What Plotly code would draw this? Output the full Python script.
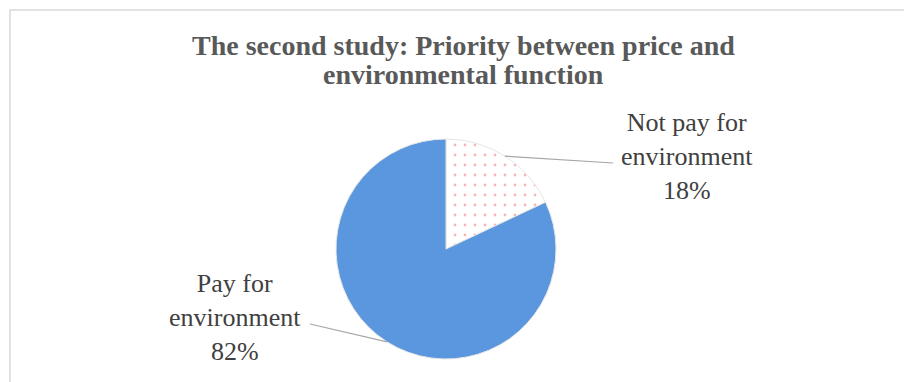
import plotly.graph_objects as go
import numpy as np

# Data
labels = ['Not pay for<br>environment', 'Pay for<br>environment']
values = [18, 82]
title_lines = ['The second study: Priority between price and', 'environmental function']

W, H = 904, 382
cx, cy, r = 446, 249, 110  # pie centre / radius in pixels

def px(x):
    return x / W

def py(y):
    return 1 - y / H

pie = go.Pie(
    labels=labels,
    values=values,
    sort=False,
    direction='clockwise',
    rotation=0,
    textinfo='none',
    hoverinfo='label+percent',
    marker=dict(
        colors=['#ffffff', '#5a97de'],
        line=dict(color='#e6e6e6', width=1),
        pattern=dict(shape=['.', ''], fgcolor='#f26b6b', bgcolor='#ffffff',
                     size=10, solidity=0.06, fillmode='overlay'),
    ),
    domain=dict(x=[px(cx - r), px(cx + r)], y=[py(cy + r), py(cy - r)]),
    showlegend=False,
)

fig = go.Figure(data=[pie])

# label text positions (pixel centres) and where the leader line ends
label_pos = [(687, 157), (235, 317)]
line_end = [(613, 163), (310, 324)]

total = sum(values)
cum = 0
shapes = [dict(type='rect', xref='paper', yref='paper',
               x0=px(10), y0=py(10), x1=1.05, y1=-0.05,
               line=dict(color='#d9d9d9', width=1.5), fillcolor='rgba(0,0,0,0)', layer='below')]
annotations = []
for lab, v, (lx, ly), (ex, ey) in zip(labels, values, label_pos, line_end):
    mid = (cum + v / 2) / total * 2 * np.pi
    cum += v
    sx = cx + r * np.sin(mid)
    sy = cy - r * np.cos(mid)
    shapes.append(dict(type='line', xref='paper', yref='paper',
                       x0=px(sx), y0=py(sy), x1=px(ex), y1=py(ey),
                       line=dict(color='#a6a6a6', width=1.2)))
    pct = round(v / total * 100)
    annotations.append(dict(
        x=px(lx), y=py(ly), xref='paper', yref='paper', showarrow=False,
        xanchor='center', yanchor='middle',
        text=f'{lab}<br>{pct}%',
        font=dict(family='Liberation Serif', size=26, color='#404040'),
    ))

for i, t in enumerate(title_lines):
    annotations.append(dict(
        x=px(463), y=py(46 + 28 * i), xref='paper', yref='paper', showarrow=False,
        xanchor='center', yanchor='middle',
        text=f'<b>{t}</b>',
        font=dict(family='Liberation Serif', size=28, color='#595959'),
    ))

fig.update_layout(
    width=W, height=H,
    margin=dict(l=0, r=0, t=0, b=0),
    paper_bgcolor='white',
    plot_bgcolor='white',
    shapes=shapes,
    annotations=annotations,
)

# remove the default page margin so the figure sits at the window's corner
fig.write_html('out.html', config={'displayModeBar': False},
               post_script="document.body.style.margin='0';")
